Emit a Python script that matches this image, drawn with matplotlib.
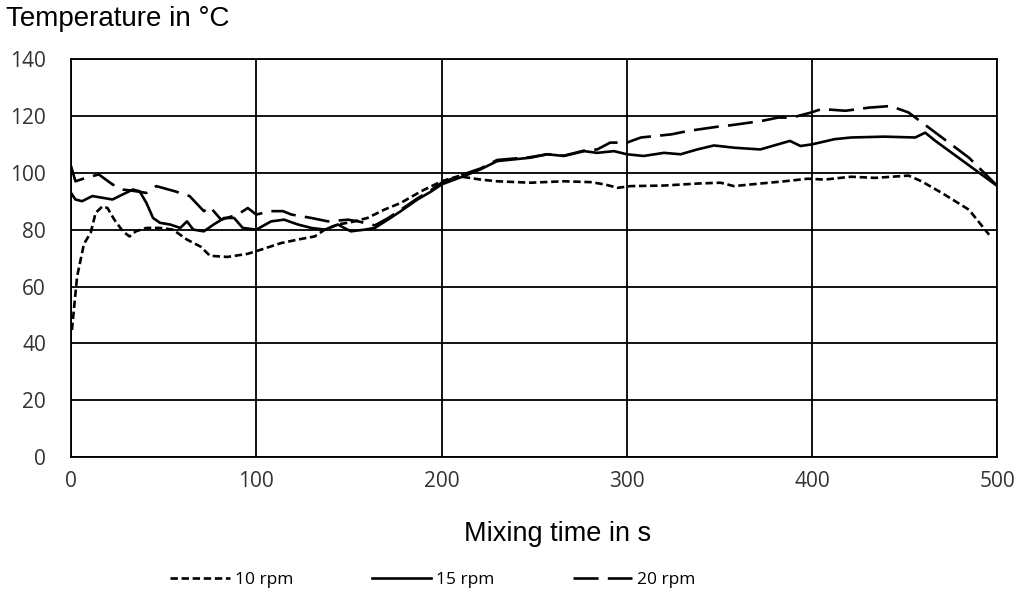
import matplotlib
matplotlib.use('Agg')
import matplotlib.pyplot as plt

# Mixing time (s) and temperature (deg C)
time_10 = [0.5, 3.3, 7, 10.6, 13.3, 17, 19.7, 23.4, 28, 31.6, 35, 40.7, 48, 55, 62.6,
           70, 75, 84.5, 95.4, 102.7, 113.5, 124, 131.5, 137, 144, 151, 160, 169, 178,
           189, 200, 209, 221, 230, 248, 266, 280.5, 288, 295, 302, 320, 338, 350.5,
           357.8, 367, 385, 397.6, 406.7, 421, 434, 452, 459, 470, 484.6, 495.5]
temp_10 = [44.7, 63.5, 75, 78.8, 85.9, 88.2, 87.6, 83.5, 79.4, 77.6, 79.4, 80.6, 80.6, 80,
           76.5, 74, 70.8, 70.4, 71.5, 73, 75.3, 76.7, 77.6, 80, 81.8, 82.6, 84.1, 87,
           89.4, 93.5, 97, 98.8, 97.6, 97, 96.5, 97, 96.7, 95.9, 94.7, 95.3, 95.5, 96.2,
           96.5, 95.3, 95.9, 97, 97.9, 97.6, 98.6, 98.2, 99, 97, 92.9, 87, 78.2]

time_15 = [0, 2.4, 6, 11.5, 17, 22.4, 28, 33.4, 37, 40.7, 44.3, 48, 53.5, 59, 62.6, 66,
           71.7, 77, 82.7, 88, 92.7, 100, 108, 115, 122.5, 129.7, 137, 144, 151, 158.5,
           164, 171, 178, 187, 194.6, 200, 212, 221, 230, 239, 248, 257, 266, 277, 284,
           293, 300, 309, 320, 329, 338, 347, 358, 372, 388, 393.7, 400, 412, 421, 439,
           455.6, 461, 466.5, 500]
temp_15 = [92.9, 90.6, 90, 91.8, 91.2, 90.6, 92.4, 94.1, 93.5, 89.4, 84.1, 82.4, 81.8,
           80.6, 82.9, 80, 79.4, 81.8, 84.1, 84.1, 80.6, 80, 82.9, 83.5, 81.8, 80.6, 80,
           81.8, 79.4, 80, 80.6, 83.5, 86.5, 90.6, 93.5, 95.9, 98.8, 101.2, 104.1, 104.7,
           105.3, 106.5, 105.9, 107.6, 107, 107.6, 106.5, 105.9, 107, 106.5, 108.2, 109.6,
           108.8, 108.2, 111.2, 109.4, 110, 111.8, 112.4, 112.7, 112.4, 114.1, 111.2, 95.3]

time_20 = [0, 2.4, 8, 15, 22.4, 28, 35, 40.7, 46, 56, 64, 71.7, 75, 81, 90, 95.4, 100,
           108, 114.4, 119, 129.7, 138.7, 149.5, 155, 164, 171, 178, 187, 194.6, 200,
           212, 221, 230, 239, 248, 257, 266, 277, 284, 291, 300, 307.6, 324, 333, 349,
           356, 372.6, 381.6, 389, 399.5, 405, 418, 430.6, 443, 446, 452, 484.6, 500]
temp_20 = [102.4, 97, 98.2, 99.4, 95.9, 94.1, 93.5, 92.9, 95.3, 93.5, 91.8, 86.5, 88,
           83.5, 85.3, 87.6, 85.3, 86.5, 86.5, 85.3, 84.1, 82.9, 83.5, 82.9, 81.5, 84, 87,
           91, 94, 96.5, 99.5, 101.5, 104.5, 105, 105.5, 106.5, 106, 107.8, 108.2, 110.6,
           110.6, 112.4, 113.5, 114.7, 116.2, 116.7, 118.2, 119.4, 119.4, 121.2, 122.4,
           121.8, 122.9, 123.5, 122.6, 121.2, 105.3, 95.3]

labels = ['10 rpm', '15 rpm', '20 rpm']
x_ticks = [0, 100, 200, 300, 400, 500]
y_ticks = [0, 20, 40, 60, 80, 100, 120, 140]

fig = plt.figure(figsize=(10.17, 5.96), dpi=100)
ax = fig.add_axes([0.0698, 0.233, 0.911, 0.668])

lw = 1.9
ax.plot(time_10, temp_10, color='black', lw=lw, dashes=(2.8, 1.4), label=labels[0])
ax.plot(time_15, temp_15, color='black', lw=lw, label=labels[1])
ax.plot(time_20, temp_20, color='black', lw=lw, dashes=(9.5, 3.5), label=labels[2])

ax.set_xlim(0, 500)
ax.set_ylim(0, 140)
ax.set_xticks(x_ticks)
ax.set_yticks(y_ticks)
ax.grid(True, color='black', lw=1.3)
ax.set_axisbelow(True)
for s in ax.spines.values():
    s.set_linewidth(1.3)
ax.tick_params(length=0, pad=10, labelsize=15, labelcolor='#333333')
ax.tick_params(axis='y', pad=18)
for t in ax.get_xticklabels() + ax.get_yticklabels():
    t.set_fontfamily('Open Sans')

fig.text(0.006, 0.968, 'Temperature in \u00b0C', fontsize=20, family='Liberation Sans',
         ha='left', va='center')
ax.set_xlabel('Mixing time in s', fontsize=19.5, family='Liberation Sans')
ax.xaxis.set_label_coords(0.525, -0.16)

fig.legend(loc='center', bbox_to_anchor=(433 / 1017, 1 - 580 / 596), ncol=3,
           frameon=False, handlelength=3.42, columnspacing=4.5, handletextpad=0.3,
           prop={'family': 'Open Sans', 'size': 12.5})

fig.savefig('out.png', dpi=100)
